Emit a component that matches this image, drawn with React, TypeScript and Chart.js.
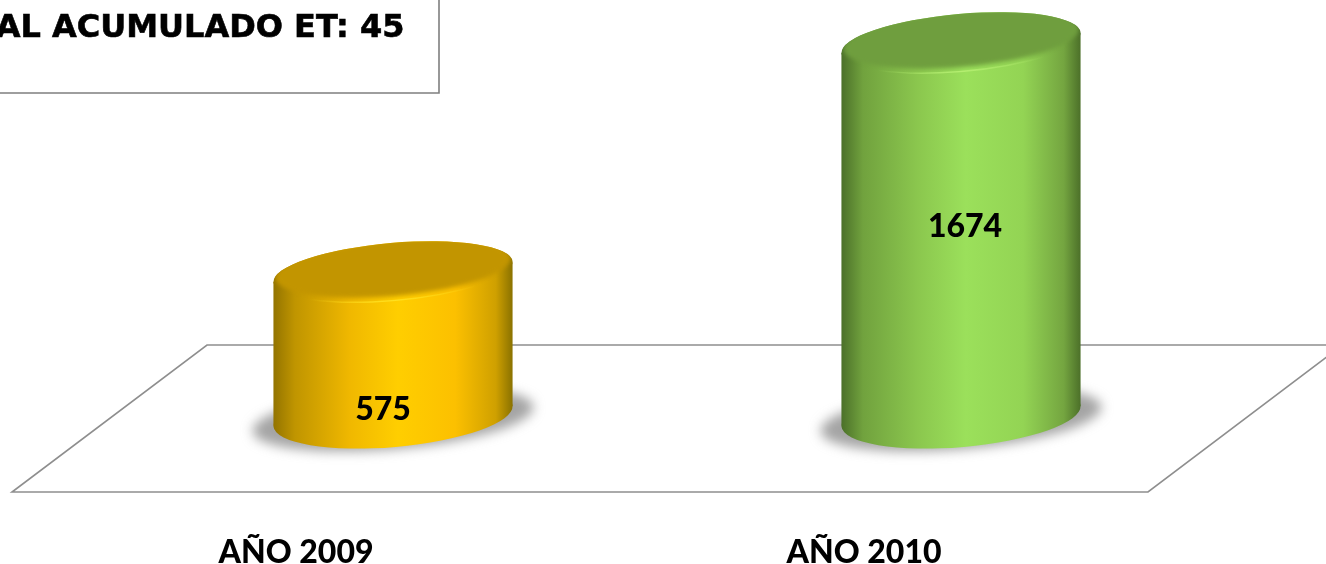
import React, { useEffect, useRef } from "react";
import { Chart, registerables } from "chart.js";

Chart.register(...registerables);

const categories = ["AÑO 2009", "AÑO 2010"];
const cases = [575, 1674];
const boxText = "AL ACUMULADO ET: 45";

const faceColors = ["#FFCC00", "#9BE05B"];
const capColors = ["#C29500", "#6F9E3E"];
const rimLights = ["#FFE020", "#B4EE70"];
const shadeStops = [
  ["#937400", "#C09500", "#F0B800", "#FFCE00", "#FCC000", "#CFA000", "#8A7200"],
  ["#4B7029", "#71A23E", "#8BC74E", "#9BE05B", "#93D454", "#74A540", "#4C7029"],
];
const stopOffsets = [0, 0.09, 0.32, 0.52, 0.76, 0.93, 1];

const labelShift = [
  { x: -10, y: 66 },
  { x: 4, y: -3 },
];

const TILT = (-5 * Math.PI) / 180;
const CAP_RY = 29;

const cylinders = {
  id: "cylinders",
  beforeDatasetsDraw(chart: any) {
    const { ctx } = chart;
    // perspective floor
    ctx.save();
    ctx.strokeStyle = "#8E8E8E";
    ctx.lineWidth = 1.6;
    ctx.beginPath();
    ctx.moveTo(1340, 345);
    ctx.lineTo(207, 345);
    ctx.lineTo(12, 492);
    ctx.lineTo(1148, 492);
    ctx.lineTo(1340, 347);
    ctx.stroke();
    ctx.restore();
  },
  beforeDatasetDraw(chart: any, args: any) {
    const { ctx } = chart;
    const meta = chart.getDatasetMeta(args.index);
    meta.data.forEach((bar: any, i: number) => {
      const { x, y, base, width } = bar.getProps(["x", "y", "base", "width"], true);
      const rx = width / 2 + 1;
      const cos = Math.cos(TILT);
      const sin = Math.sin(TILT);
      const halfW = Math.sqrt(rx * rx * cos * cos + CAP_RY * CAP_RY * sin * sin);
      const dy = ((rx * rx - CAP_RY * CAP_RY) * Math.abs(sin * cos)) / halfW;

      const grad = ctx.createLinearGradient(x - halfW, 0, x + halfW, 0);
      stopOffsets.forEach((o, k) => grad.addColorStop(o, shadeStops[i][k]));

      // ground shadow
      ctx.save();
      ctx.filter = "blur(6px)";
      ctx.fillStyle = "rgba(125,125,125,0.7)";
      ctx.beginPath();
      ctx.ellipse(x, base + 3, rx + 21, CAP_RY + 1, TILT, 0, Math.PI * 2);
      ctx.fill();
      ctx.restore();

      // body
      ctx.fillStyle = grad;
      ctx.beginPath();
      ctx.moveTo(x - halfW, y + dy);
      ctx.lineTo(x - halfW, base + dy);
      ctx.lineTo(x + halfW, base - dy);
      ctx.lineTo(x + halfW, y - dy);
      ctx.closePath();
      ctx.fill();
      ctx.beginPath();
      ctx.ellipse(x, base, rx, CAP_RY + 2, TILT, 0, Math.PI * 2);
      ctx.fill();

      // cap with bevel
      ctx.save();
      ctx.beginPath();
      ctx.ellipse(x, y, rx, CAP_RY, TILT, 0, Math.PI * 2);
      ctx.fillStyle = grad;
      ctx.fill();
      ctx.clip();
      ctx.filter = "blur(2px)";
      ctx.fillStyle = capColors[i];
      ctx.beginPath();
      ctx.ellipse(x, y - 4, rx - 2, CAP_RY - 1, TILT, 0, Math.PI * 2);
      ctx.fill();
      ctx.restore();

      const rim = ctx.createLinearGradient(x - halfW, 0, x + halfW, 0);
      rim.addColorStop(0.15, rimLights[i] + "00");
      rim.addColorStop(0.5, rimLights[i]);
      rim.addColorStop(0.85, rimLights[i] + "00");
      ctx.strokeStyle = rim;
      ctx.lineWidth = 1.5;
      ctx.beginPath();
      ctx.ellipse(x, y, rx - 0.5, CAP_RY - 0.5, TILT, 0.2, Math.PI - 0.2);
      ctx.stroke();
    });
    return false;
  },
  afterDatasetsDraw(chart: any) {
    const { ctx } = chart;
    ctx.save();
    // value labels
    ctx.fillStyle = "#000";
    ctx.font = "900 32px Lato";
    ctx.textAlign = "center";
    ctx.textBaseline = "middle";
    chart.getDatasetMeta(0).data.forEach((bar: any, i: number) => {
      const { x, y, base } = bar.getProps(["x", "y", "base"], true);
      ctx.fillText(String(cases[i]), x + labelShift[i].x, (y + base) / 2 + labelShift[i].y);
    });
    // text box cut by the page edge
    ctx.strokeStyle = "#7F7F7F";
    ctx.lineWidth = 1.6;
    ctx.beginPath();
    ctx.moveTo(439, 0);
    ctx.lineTo(439, 93);
    ctx.lineTo(0, 93);
    ctx.stroke();
    ctx.font = "700 32px 'DejaVu Sans'";
    ctx.textAlign = "right";
    ctx.textBaseline = "alphabetic";
    ctx.strokeStyle = "#000";
    ctx.lineWidth = 0.6;
    ctx.fillText(boxText, 404.5, 37);
    ctx.strokeText(boxText, 404.5, 37);
    ctx.restore();
  },
};

export default function App() {
  const ref = useRef<HTMLCanvasElement | null>(null);
  useEffect(() => {
    const chart = new Chart(ref.current as HTMLCanvasElement, {
      type: "bar",
      data: {
        labels: categories,
        datasets: [
          {
            data: cases,
            base: -116,
            backgroundColor: faceColors,
            barThickness: 238,
          } as any,
        ],
      },
      options: {
        responsive: false,
        animation: false,
        layout: { padding: { left: 109, right: 81, top: 0, bottom: 0 } },
        plugins: { legend: { display: false }, tooltip: { enabled: false } },
        scales: {
          x: {
            grid: { display: false },
            border: { display: false },
            afterFit: (s: any) => {
              s.height = 148;
            },
            ticks: {
              color: "#000",
              font: { family: "Lato", weight: "900", size: 32 },
              labelOffset: -97,
              padding: 109,
              maxRotation: 0,
              autoSkip: false,
            },
          },
          y: { display: false, min: -116, max: 1880 },
        },
      },
      plugins: [cylinders],
    } as any);
    return () => chart.destroy();
  }, []);
  return (
    <div style={{ position: "fixed", left: 0, top: 0, width: 1326, height: 564, background: "#fff" }}>
      <canvas ref={ref} width={1326} height={564} style={{ display: "block" }} />
    </div>
  );
}
